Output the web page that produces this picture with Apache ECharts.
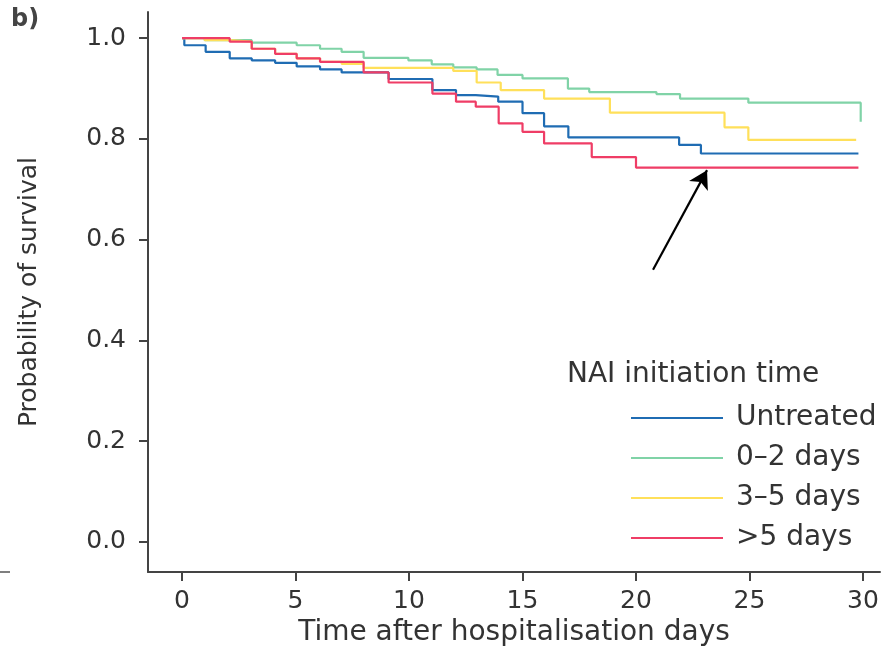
<!DOCTYPE html>
<html>
<head>
<meta charset="utf-8">
<script src="https://cdn.jsdelivr.net/npm/echarts@6/dist/echarts.min.js"></script>
<style>
html,body{margin:0;padding:0;background:#fff;}
#chart{width:894px;height:647px;}
</style>
</head>
<body>
<div id="chart"></div>
<script>
// Series names
const seriesNames = ['Untreated', '0\u20132 days', '3\u20135 days', '>5 days'];
// Kaplan-Meier steps: [day, survival probability]
const untreated = [[0,1.0],[0.1,0.986],[1.04,0.973],[2.1,0.96],[3.07,0.956],[4.1,0.951],[5.05,0.944],[6.08,0.938],[7.03,0.932],[9.1,0.919],[11.03,0.897],[12.07,0.887],[12.94,0.884],[13.93,0.874],[15.0,0.851],[15.95,0.825],[17.02,0.803],[21.9,0.788],[22.86,0.771],[29.8,0.771]];
const days0to2 = [[0,1.0],[1.0,0.996],[3.07,0.991],[5.05,0.986],[6.08,0.979],[7.03,0.973],[8.0,0.961],[9.97,0.956],[11.0,0.948],[11.95,0.942],[12.98,0.938],[13.9,0.927],[15.0,0.920],[17.0,0.900],[17.94,0.893],[20.9,0.889],[21.94,0.880],[24.95,0.872],[29.9,0.834]];
const days3to5 = [[0,1.0],[1.0,0.996],[2.1,0.993],[3.07,0.979],[4.1,0.969],[5.05,0.96],[6.08,0.953],[7.03,0.949],[8.0,0.941],[11.95,0.935],[12.98,0.912],[14.04,0.897],[15.95,0.880],[18.85,0.852],[23.9,0.823],[24.95,0.798],[29.7,0.798]];
const daysOver5 = [[0,1.0],[2.1,0.993],[3.07,0.979],[4.1,0.969],[5.05,0.96],[6.08,0.953],[8.0,0.932],[9.1,0.912],[11.03,0.890],[12.07,0.874],[12.94,0.864],[13.95,0.831],[15.0,0.814],[15.95,0.791],[18.05,0.764],[20.0,0.743],[29.8,0.743]];
// Tick labels
const xTicks = [0, 5, 10, 15, 20, 25, 30];
const yTicks = [0, 0.2, 0.4, 0.6, 0.8, 1.0];
// Annotation arrow (data coordinates)
const arrowFrom = [20.75, 0.540];
const arrowTo = [23.13, 0.738];

const colors = ['#1f6cb3', '#80d3a7', '#ffe05a', '#ef3d66'];
const seriesData = [untreated, days0to2, days3to5, daysOver5];
const FONT = 'DejaVu Sans';
const TXT = '#333333';

const chart = echarts.init(document.getElementById('chart'));
const series = seriesNames.map((name, i) => ({
  name: name,
  type: 'line',
  step: 'end',
  data: seriesData[i],
  symbol: 'none',
  sampling: null,
  smooth: false,
  lineStyle: { color: colors[i], width: 2.2 },
  itemStyle: { color: colors[i] },
  z: 2 + i,
  animation: false
}));
series[3].markLine = {
  silent: true,
  symbol: ['none', 'arrow'],
  symbolSize: [16, 18],
  label: { show: false },
  lineStyle: { color: '#000', width: 2.2, type: 'solid' },
  data: [[{ coord: arrowFrom }, { coord: arrowTo }]]
};

chart.setOption({
  backgroundColor: '#ffffff',
  animation: false,
  grid: { left: 148, right: 14, top: 12, bottom: 75, containLabel: false, outerBoundsMode: 'none' },
  title: {
    text: 'NAI initiation time',
    left: 562, top: 356,
    textStyle: { fontFamily: FONT, fontSize: 28, fontWeight: 'normal', color: TXT }
  },
  legend: {
    orient: 'vertical',
    left: 626, top: 398,
    itemWidth: 92, itemHeight: 14, itemGap: 10,
    itemStyle: { borderWidth: 0 },
    data: seriesNames.map((n, i) => ({
      name: n,
      icon: 'path://M0,6.5 L92,6.5 L92,8.5 L0,8.5 Z',
      itemStyle: { color: colors[i] }
    })),
    textStyle: { fontFamily: FONT, fontSize: 28, color: TXT, lineHeight: 30, padding: [0, 0, 0, 8] }
  },
  xAxis: {
    type: 'value',
    min: -1.5, max: 30.75,
    name: 'Time after hospitalisation days',
    nameLocation: 'middle',
    nameGap: 46,
    nameTextStyle: { fontFamily: FONT, fontSize: 28, color: TXT },
    axisLine: { onZero: false, lineStyle: { color: '#444', width: 2 } },
    axisTick: { show: true, length: 9, lineStyle: { color: '#444', width: 2 }, customValues: xTicks },
    axisLabel: { fontFamily: FONT, fontSize: 25, color: TXT, margin: 17, customValues: xTicks },
    splitLine: { show: false }
  },
  yAxis: {
    type: 'value',
    min: -0.06, max: 1.052,
    name: 'Probability of survival',
    nameLocation: 'middle',
    nameGap: 106,
    nameTextStyle: { fontFamily: FONT, fontSize: 25, color: TXT },
    axisLine: { onZero: false, lineStyle: { color: '#444', width: 2 } },
    axisTick: { show: true, length: 9, lineStyle: { color: '#444', width: 2 }, customValues: yTicks },
    axisLabel: { fontFamily: FONT, fontSize: 25, color: TXT, margin: 22, customValues: yTicks,
      formatter: v => v.toFixed(1) },
    splitLine: { show: false }
  },
  graphic: [
    { type: 'text', left: 11, top: 8, style: { text: 'b)', fontFamily: FONT, fontSize: 24, fontWeight: 'bold', fill: '#444' } },
    { type: 'line', shape: { x1: 0, y1: 572, x2: 10, y2: 572 }, style: { stroke: '#555', lineWidth: 1.5 } }
  ],
  series: series
});
</script>
</body>
</html>
